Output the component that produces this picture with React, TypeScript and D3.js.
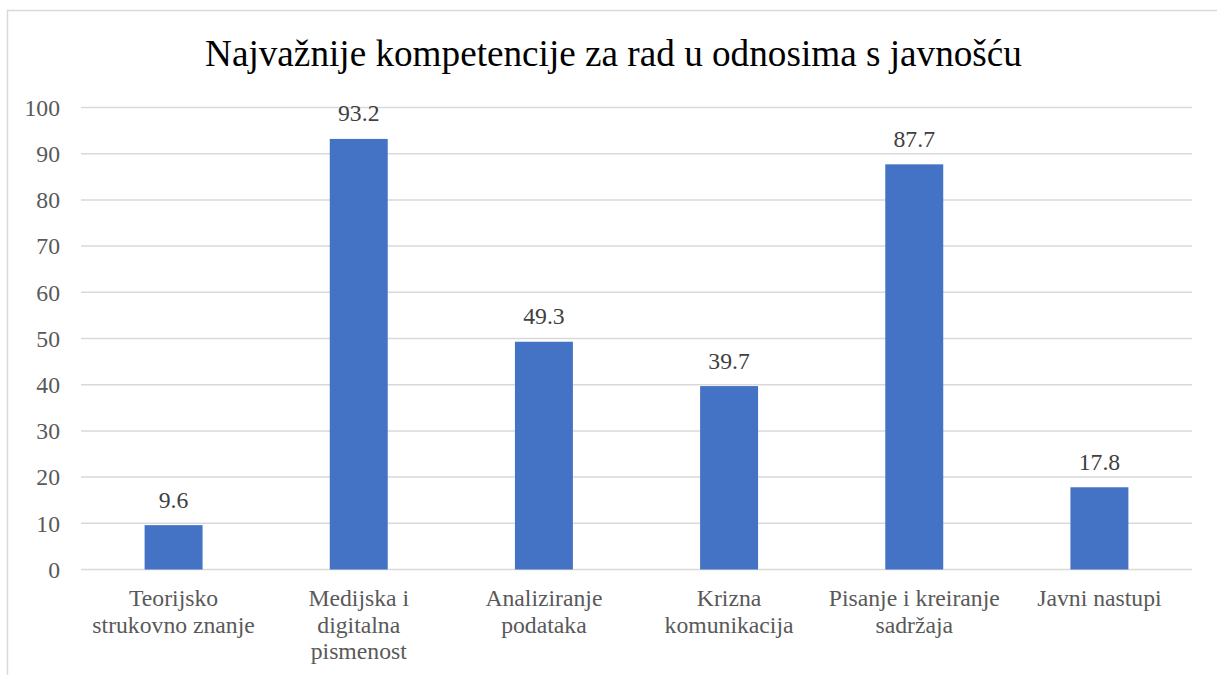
import React from "react";
import * as d3 from "d3";

const title = "Najvažnije kompetencije za rad u odnosima s javnošću";
const categories = [
  ["Teorijsko", "strukovno znanje"],
  ["Medijska i", "digitalna", "pismenost"],
  ["Analiziranje", "podataka"],
  ["Krizna", "komunikacija"],
  ["Pisanje i kreiranje", "sadržaja"],
  ["Javni nastupi"],
];
const values = [9.6, 93.2, 49.3, 39.7, 87.7, 17.8];
const yTicks = [0, 10, 20, 30, 40, 50, 60, 70, 80, 90, 100];

const W = 1217;
const H = 675;
const plot = { left: 81, right: 1192, top: 107.5, bottom: 569.5 };
const FONT = '"Liberation Serif", "Times New Roman", serif';
const FS = 23.7;

export default function App() {
  const keys = categories.map((c) => c.join(" "));
  const x = d3.scaleBand<string>().domain(keys).range([plot.left, plot.right]).paddingInner(0).paddingOuter(0);
  const y = d3.scaleLinear().domain([0, 100]).range([plot.bottom, plot.top]);
  const bw = x.bandwidth() * 0.313;

  return (
    <svg width={W} height={H} style={{ position: "absolute", left: 0, top: 0, fontFamily: FONT }}>
      <rect x={0} y={0} width={W} height={H} fill="#fff" />
      <rect x={7.5} y={10.5} width={1240} height={720} fill="#fff" stroke="#d9d9d9" strokeWidth={1.5} />
      <text x={613.5} y={66} textAnchor="middle" fontSize={37.2} fill="#000">
        {title}
      </text>
      {yTicks.map((t) => (
        <g key={t}>
          <line x1={plot.left} x2={plot.right} y1={y(t)} y2={y(t)} stroke="#d9d9d9" strokeWidth={1.5} />
          <text x={60} y={y(t)} dy="0.35em" textAnchor="end" fontSize={FS} fill="#595959">
            {t}
          </text>
        </g>
      ))}
      {values.map((v, i) => {
        const cx = (x(keys[i]) as number) + x.bandwidth() / 2;
        return (
          <g key={i}>
            <rect x={cx - bw / 2} y={y(v)} width={bw} height={y(0) - y(v)} fill="#4472C4" />
            <text x={cx} y={y(v) - 17.5} textAnchor="middle" fontSize={FS} fill="#404040">
              {v.toFixed(1)}
            </text>
            {categories[i].map((line, j) => (
              <text key={j} x={cx} y={606 + j * 26.5} textAnchor="middle" fontSize={FS} fill="#595959">
                {line}
              </text>
            ))}
          </g>
        );
      })}
    </svg>
  );
}
